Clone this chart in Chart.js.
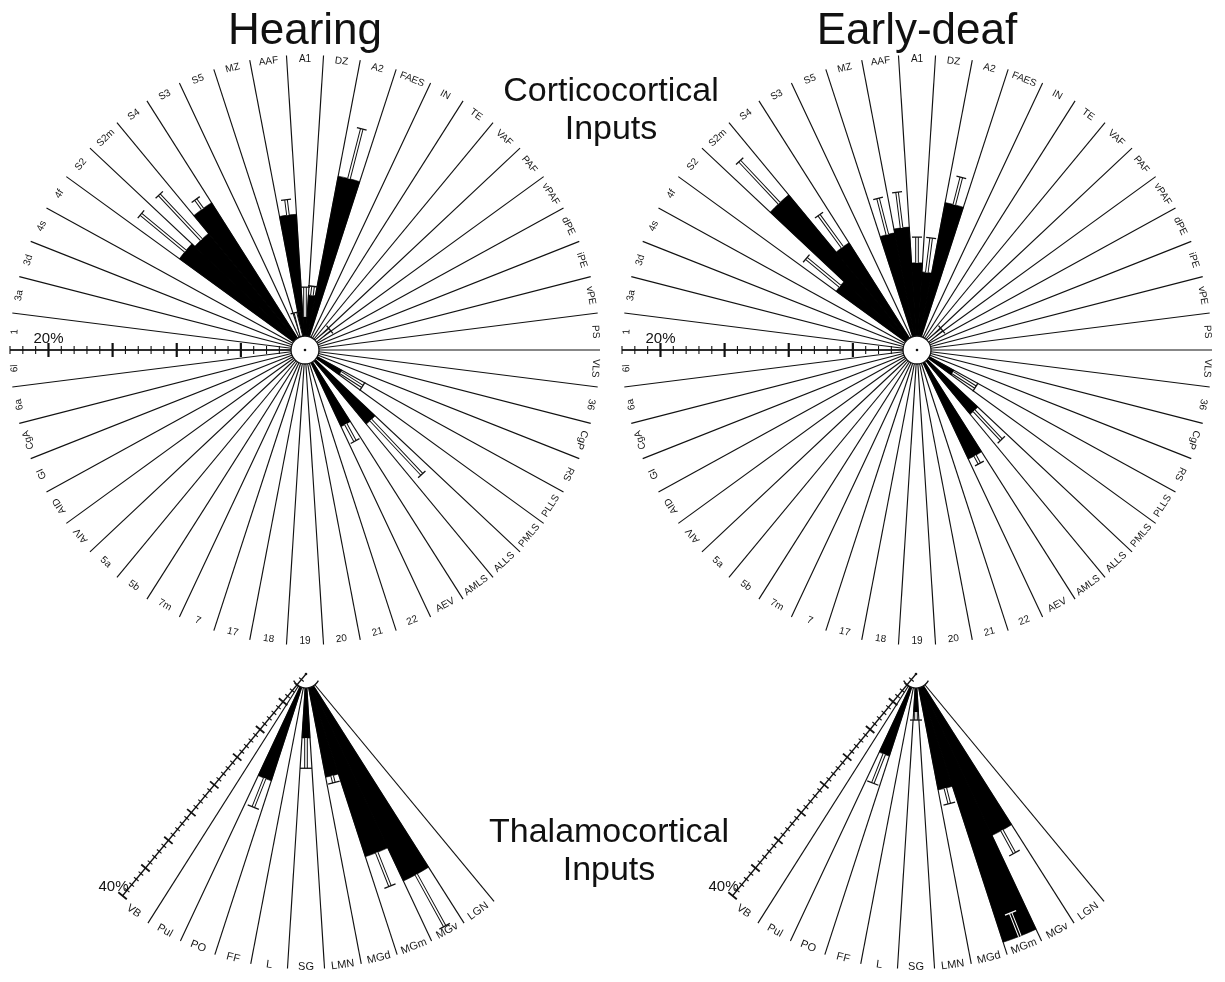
<!DOCTYPE html>
<html>
<head>
<meta charset="utf-8">
<script src="https://cdn.jsdelivr.net/npm/chart.js@4/dist/chart.umd.min.js"></script>
<style>
  html, body { margin: 0; padding: 0; background: #fff; width: 1225px; height: 982px; overflow: hidden; }
  #wrap { position: relative; width: 1225px; height: 982px; }
  #wrap canvas { position: absolute; left: 0; top: 0; }
  .t { position: absolute; font-family: "Liberation Sans", Arial, sans-serif; color: #111;
       text-align: center; white-space: nowrap; }
</style>
</head>
<body>
<div id="wrap">
  <canvas id="hearCortex" width="1225" height="982"></canvas>
  <canvas id="deafCortex" width="1225" height="982"></canvas>
  <canvas id="hearThal" width="1225" height="982"></canvas>
  <canvas id="deafThal" width="1225" height="982"></canvas>
  <div class="t" style="left:155px;width:300px;top:7px;font-size:44px;line-height:44px;">Hearing</div>
  <div class="t" style="left:767px;width:300px;top:7px;font-size:44px;line-height:44px;">Early-deaf</div>
  <div class="t" style="left:461px;width:300px;top:70px;font-size:34px;line-height:38px;">Corticocortical<br>Inputs</div>
  <div class="t" style="left:459px;width:300px;top:811px;font-size:34px;line-height:38px;">Thalamocortical<br>Inputs</div>
</div>
<script>
// Cortical areas, clockwise from A1 at 12 o'clock
const corticalAreas = [
  'A1', 'DZ', 'A2', 'FAES', 'IN', 'TE', 'VAF', 'PAF', 'vPAF', 'dPE',
  'iPE', 'vPE', 'PS', 'VLS', '36', 'CgP', 'RS', 'PLLS', 'PMLS', 'ALLS',
  'AMLS', 'AEV', '22', '21', '20', '19', '18', '17', '7', '7m',
  '5b', '5a', 'AIV', 'AID', 'GI', 'CgA', '6a', '6l', '1', '3a',
  '3d', '4s', '4f', 'S2', 'S2m', 'S4', 'S3', 'S5', 'MZ', 'AAF'
];

// Percent of corticocortical inputs (mean) and SEM
const hearingCortical = [
  2.6, 4.3, 13.8, 0, 0, 0, 0, 0.9, 0, 0,
  0, 0, 0, 0, 0, 0, 0, 3.3, 0, 7.5,
  0, 6.6, 0, 0, 0, 0, 0, 0, 0, 0,
  0, 0, 0, 0, 0, 0, 0, 0, 0, 0,
  0, 0, 0, 12.1, 11.8, 13.6, 0, 0, 1.0, 10.6
];
const hearingCorticalSem = [
  2.3, 0.7, 4.0, 0, 0, 0, 0, 1.6, 0, 0,
  0, 0, 0, 0, 0, 0, 0, 2.0, 0, 5.8,
  0, 1.5, 0, 0, 0, 0, 0, 0, 0, 0,
  0, 0, 0, 0, 0, 0, 0, 0, 0, 0,
  0, 0, 0, 4.5, 4.8, 0.9, 0, 0, 2.0, 1.2
];
const deafCortical = [
  6.8, 6.1, 11.7, 0, 0, 0, 0, 0.9, 0, 0,
  0, 0, 0, 0, 0, 0, 0, 3.3, 0, 6.5,
  0, 9.4, 0, 0, 0, 0, 0, 0, 0, 0,
  0, 0, 0, 0, 0, 0, 0, 0, 0, 0,
  0, 0, 0, 7.8, 15.7, 9.9, 0, 0, 9.3, 9.6
];
const deafCorticalSem = [
  2.0, 2.7, 2.2, 0, 0, 0, 0, 1.6, 0, 0,
  0, 0, 0, 0, 0, 0, 0, 2.1, 0, 3.1,
  0, 0.7, 0, 0, 0, 0, 0, 0, 0, 0,
  0, 0, 0, 0, 0, 0, 0, 0, 0, 0,
  0, 0, 0, 3.4, 4.5, 3.1, 0, 0, 2.9, 2.8
];

// Thalamic nuclei, left to right across the fan
const thalamicNuclei = ['VB', 'Pul', 'PO', 'FF', 'L', 'SG', 'LMN', 'MGd', 'MGm', 'MGv', 'LGN'];
const hearingThalamic    = [0, 0, 15.6, 0, 0, 8.9, 0, 14.6, 26.7, 31.8, 0];
const hearingThalamicSem = [0, 0, 4.3, 0, 0, 4.2, 0, 1.0, 5.0, 8.2, 0];
const deafThalamic       = [0, 0, 12.0, 0, 0, 5.3, 0, 16.4, 39.2, 24.8, 0];
// negative SEM: error bar drawn back inside the bar
const deafThalamicSem    = [0, 0, 4.3, 0, 0, 1.1, 0, 2.2, -3.5, 3.6, 0];

// Scale annotations
const corticalScaleMax = 23;
const corticalAxisTicks = [20];
const corticalAxisText = ['20%'];
const thalamicScaleMax = 41;
const thalamicAxisEnd = 40;
const thalamicAxisTicks = [40];
const thalamicAxisText = ['40%'];

const SLOTS = 50;                 // 7.2 degree sectors
const FONT = '"Liberation Sans", Arial, sans-serif';

// Thalamic fan occupies 11 of the 50 slots, drawn clockwise from LGN
function fanSlots(arr, fill) {
  const out = new Array(SLOTS).fill(fill);
  for (let k = 0; k < arr.length; k++) out[arr.length - 1 - k] = arr[k];
  return out;
}

function labelRotation(theta) {
  const deg = theta * 180 / Math.PI;
  return (deg > 118.8 && deg < 226.8) ? theta - Math.PI : theta;
}

function decorPlugin(cfg) {
  return {
    id: 'roseDecor',
    afterDatasetsDraw(chart) {
      const ctx = chart.ctx;
      const scale = chart.scales.r;
      const cx = scale.xCenter, cy = scale.yCenter;
      const n = chart.data.labels.length;
      const step = 2 * Math.PI / n;
      const values = chart.data.datasets[0].data;
      const sems = cfg.sems;
      const dist = v => scale.getDistanceFromCenterForValue(v);

      // error bars along the middle of each sector
      ctx.save();
      for (let i = 0; i < n; i++) {
        const v = values[i], s = sems[i];
        if (!v || !s) continue;
        const theta = scale.getIndexAngle(i) + step / 2;
        const r0 = dist(v), r1 = dist(v + s);
        const inward = s < 0;
        const hw = 1.3;
        ctx.save();
        ctx.translate(cx, cy);
        ctx.rotate(theta - Math.PI / 2);
        ctx.lineWidth = 1;
        ctx.strokeStyle = inward ? '#fff' : '#111';
        ctx.fillStyle = inward ? '#000' : '#fff';
        const a = Math.min(r0, r1), b = Math.max(r0, r1);
        ctx.fillRect(a, -hw, b - a, 2 * hw);
        ctx.beginPath();
        ctx.moveTo(r0, -hw); ctx.lineTo(r1, -hw);
        ctx.moveTo(r0, hw); ctx.lineTo(r1, hw);
        ctx.stroke();
        ctx.lineWidth = 1.3;
        ctx.beginPath();
        ctx.moveTo(r1, -cfg.capHalf); ctx.lineTo(r1, cfg.capHalf);
        ctx.stroke();
        ctx.restore();
      }
      ctx.restore();

      // scale axis with percent ticks
      const axTheta = scale.getIndexAngle(cfg.axisIndex);
      const ux = Math.sin(axTheta), uy = -Math.cos(axTheta);
      const px = -uy, py = ux;
      const drawAxis = () => {
        ctx.save();
        ctx.strokeStyle = '#111';
        ctx.lineWidth = 1.3;
        const rEnd = dist(cfg.axisEnd);
        ctx.beginPath();
        ctx.moveTo(cx, cy);
        ctx.lineTo(cx + ux * rEnd, cy + uy * rEnd);
        ctx.stroke();
        for (let v = 1; v <= cfg.axisEnd; v++) {
          const r = dist(v);
          const major = v % 5 === 0;
          const h = major ? cfg.majorHalf : cfg.minorHalf;
          ctx.lineWidth = major ? cfg.majorWidth : 1.1;
          const x = cx + ux * r, y = cy + uy * r;
          ctx.beginPath();
          ctx.moveTo(x - px * h, y - py * h);
          ctx.lineTo(x + px * h, y + py * h);
          ctx.stroke();
        }
        ctx.fillStyle = '#111';
        ctx.font = '15px ' + FONT;
        ctx.textBaseline = 'middle';
        cfg.axisTicks.forEach((v, k) => {
          const r = dist(v);
          const x = cx + ux * r, y = cy + uy * r;
          ctx.textAlign = cfg.axisTextAlign;
          ctx.fillText(cfg.axisText[k], x + cfg.axisTextDx, y + cfg.axisTextDy);
        });
        ctx.restore();
      };

      if (!cfg.axisOverCircle) drawAxis();

      // hub circle
      ctx.save();
      ctx.fillStyle = '#fff';
      ctx.strokeStyle = '#111';
      ctx.lineWidth = 1.3;
      ctx.beginPath();
      ctx.arc(cx, cy, cfg.hubRadius, 0, 2 * Math.PI);
      ctx.fill();
      ctx.beginPath();
      if (cfg.hubArc) {
        ctx.arc(cx, cy, cfg.hubRadius, cfg.hubArc[0] * Math.PI / 180, cfg.hubArc[1] * Math.PI / 180);
      } else {
        ctx.arc(cx, cy, cfg.hubRadius, 0, 2 * Math.PI);
      }
      ctx.stroke();
      ctx.fillStyle = '#111';
      ctx.beginPath();
      ctx.arc(cx, cy, 1.3, 0, 2 * Math.PI);
      ctx.fill();
      ctx.restore();

      if (cfg.axisOverCircle) drawAxis();

      // sector names at the rim
      ctx.save();
      ctx.fillStyle = '#151515';
      ctx.font = cfg.labelFont + 'px ' + FONT;
      ctx.textAlign = 'center';
      ctx.textBaseline = 'middle';
      const rLab = scale.drawingArea + cfg.labelOffset;
      for (let i = 0; i < n; i++) {
        const text = chart.data.labels[i];
        if (!text) continue;
        const theta = scale.getIndexAngle(i) + step / 2;
        ctx.save();
        ctx.translate(cx + Math.sin(theta) * rLab, cy - Math.cos(theta) * rLab);
        ctx.rotate(labelRotation(theta));
        ctx.fillText(text, 0, 0);
        ctx.restore();
      }
      ctx.restore();
    }
  };
}

function makeRose(id, o) {
  return new Chart(document.getElementById(id), {
    type: 'polarArea',
    data: {
      labels: o.labels,
      datasets: [{
        data: o.values,
        backgroundColor: '#000',
        borderColor: '#000',
        borderWidth: 0.6
      }]
    },
    options: {
      responsive: false,
      animation: false,
      devicePixelRatio: 1,
      events: [],
      layout: { padding: o.padding },
      plugins: { legend: { display: false }, tooltip: { enabled: false } },
      scales: {
        r: {
          min: 0,
          max: o.max,
          startAngle: o.startAngle,
          ticks: { display: false },
          grid: { display: false },
          pointLabels: { display: false },
          angleLines: {
            display: true,
            color: '#111',
            lineWidth: (c) => o.spoke(c.index) ? 1.15 : 0
          }
        }
      }
    },
    plugins: [decorPlugin(o.decor)]
  });
}

const corticalDecor = (sems) => ({
  sems: sems, capHalf: 5, axisIndex: 38, axisEnd: corticalScaleMax,
  majorHalf: 7, minorHalf: 4, majorWidth: 2.2,
  axisTicks: corticalAxisTicks, axisText: corticalAxisText,
  axisTextAlign: 'center', axisTextDx: 0, axisTextDy: -11,
  axisOverCircle: false, hubRadius: 14, hubArc: null,
  labelFont: 10, labelOffset: -4
});

const thalamicDecor = (sems) => ({
  sems: fanSlots(sems, 0), capHalf: 6, axisIndex: thalamicNuclei.length, axisEnd: thalamicAxisEnd,
  majorHalf: 5.5, minorHalf: 3, majorWidth: 1.8,
  axisTicks: thalamicAxisTicks, axisText: thalamicAxisText,
  axisTextAlign: 'right', axisTextDx: 6, axisTextDy: -9,
  axisOverCircle: true, hubRadius: 14, hubArc: [28, 152],
  labelFont: 11, labelOffset: -2
});

makeRose('hearCortex', {
  labels: corticalAreas, values: hearingCortical, max: corticalScaleMax, startAngle: -3.6,
  padding: { left: 10, right: 625, top: 55, bottom: 337 },
  spoke: () => true, decor: corticalDecor(hearingCorticalSem)
});
makeRose('deafCortex', {
  labels: corticalAreas, values: deafCortical, max: corticalScaleMax, startAngle: -3.6,
  padding: { left: 622, right: 13, top: 55, bottom: 337 },
  spoke: () => true, decor: corticalDecor(deafCorticalSem)
});
makeRose('hearThal', {
  labels: fanSlots(thalamicNuclei, ''), values: fanSlots(hearingThalamic, 0), max: thalamicScaleMax, startAngle: 140.4,
  padding: { left: 11, right: 624, top: 379, bottom: 13 },
  spoke: (i) => i < thalamicNuclei.length, decor: thalamicDecor(hearingThalamicSem)
});
makeRose('deafThal', {
  labels: fanSlots(thalamicNuclei, ''), values: fanSlots(deafThalamic, 0), max: thalamicScaleMax, startAngle: 140.4,
  padding: { left: 621, right: 14, top: 379, bottom: 13 },
  spoke: (i) => i < thalamicNuclei.length, decor: thalamicDecor(deafThalamicSem)
});
</script>
</body>
</html>
